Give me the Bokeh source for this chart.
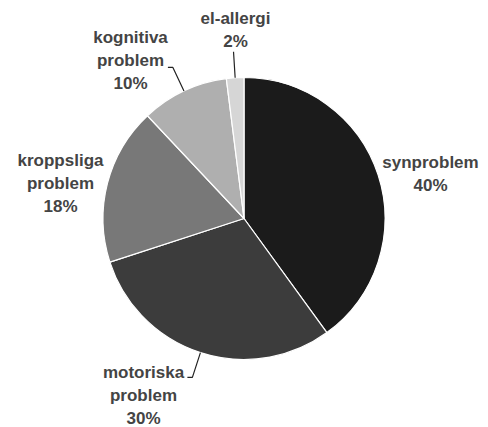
import math
from bokeh.plotting import figure
from bokeh.models import Range1d
from bokeh.core.properties import value
from bokeh.embed import file_html
from bokeh.resources import INLINE

# ---- data ----
categories = ["synproblem", "motoriska problem", "kroppsliga problem", "kognitiva problem", "el-allergi"]
label_lines = [["synproblem"], ["motoriska", "problem"], ["kroppsliga", "problem"],
               ["kognitiva", "problem"], ["el-allergi"]]
percent = [40, 30, 18, 10, 2]

# ---- styles / layout ----
colors = ["#1b1b1b", "#3c3c3c", "#787878", "#afafaf", "#d6d6d6"]
# label block centre offsets from the pie centre (px), and which labels have leader lines
label_offsets = [(186.5, 45), (-100.5, -177), (-183.5, 35), (-113.5, 158), (-8.5, 189)]
leader = [None, "left", None, "left", "none"]
text_color = "#444444"
font = "Liberation Sans"
fsize = 17
line_h = 23

W, H = 488, 427
p = figure(width=W, height=H, output_backend="svg", toolbar_location=None,
           x_range=Range1d(0, W), y_range=Range1d(0, H),
           min_border=0)
p.axis.visible = False
p.grid.visible = False
p.outline_line_color = None
p.background_fill_color = "white"
p.border_fill_color = "white"

cx, cy, R = 243.5, 427 - 218, 141
total = sum(percent)
start = math.pi / 2
starts, ends, mids = [], [], []
for v in percent:
    a = 2 * math.pi * v / total
    starts.append(start)
    ends.append(start - a)
    mids.append(start - a / 2)
    start -= a

p.wedge(x=[cx] * len(percent), y=[cy] * len(percent), radius=R,
        start_angle=ends, end_angle=starts, direction="anticlock",
        fill_color=colors, line_color="white", line_width=1.2)

# leader lines
for i, kind in enumerate(leader):
    if kind is None:
        continue
    m = mids[i]
    x1, y1 = cx + R * math.cos(m), cy + R * math.sin(m)
    x2, y2 = cx + 167 * math.cos(m), cy + 167 * math.sin(m)
    xs, ys = [x1, x2], [y1, y2]
    if kind == "left":
        xs.append(x2 - 5)
        ys.append(y2)
    p.line(xs, ys, line_color="#222222", line_width=1.2)

# labels
for i, lines in enumerate(label_lines):
    allt = lines + [f"{percent[i]}%"]
    n = len(allt)
    lx = cx + label_offsets[i][0]
    ly = cy + label_offsets[i][1]
    for j, t in enumerate(allt):
        yy = ly + ((n - 1) / 2 - j) * line_h
        p.text(x=[lx], y=[yy], text=[t], text_align="center", text_baseline="middle",
               text_font=value(font), text_font_style="bold",
               text_font_size=f"{fsize}px", text_color=text_color)

open("out.html", "w").write(file_html(p, INLINE))
